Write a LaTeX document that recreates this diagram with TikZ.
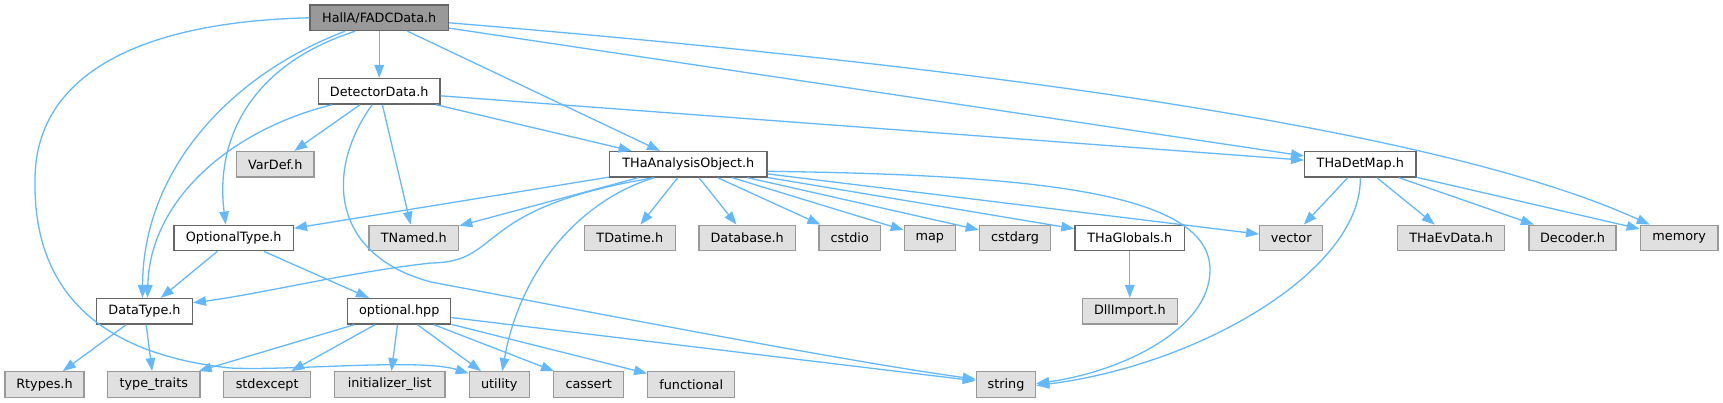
\documentclass[tikz,border=0pt]{standalone}
\usepackage{fontspec}
\setmainfont{DejaVu Sans}
\usetikzlibrary{arrows.meta}
\definecolor{povezava}{HTML}{63B8FF}
\definecolor{obroba}{HTML}{666666}
\definecolor{obrobasiva}{HTML}{999999}
\definecolor{polnilo}{HTML}{E0E0E0}
\tikzset{
	diagram/.style={x=1pt, y=-1pt, font=\fontsize{12.8}{15}\selectfont,
	                >={Triangle[length=13pt,width=9.5pt]}},
	datoteka/.style={draw=obroba, line width=1.3pt, fill=white, minimum height=25.5pt, inner sep=0pt},
	koren/.style={datoteka, fill=obrobasiva},
	sistemska/.style={datoteka, draw=obrobasiva, fill=polnilo},
	vkljuci/.style={->, draw=povezava, line width=1.3pt},
}

\begin{document}
\begin{tikzpicture}[diagram]
\useasboundingbox (0,0) rectangle (1723,403);

% ---------- datoteke ----------
\node[koren, minimum width=138.3pt] (fadc) at (379.2,17.8) {HallA/FADCData.h};

\node[datoteka, minimum width=121.7pt] (detdata) at (379.2,91.3) {DetectorData.h};

\node[sistemska, minimum width=77.7pt] (vardef) at (275.2,164.3) {VarDef.h};
\node[datoteka, minimum width=157.3pt] (anaobj) at (688.3,164.3) {THaAnalysisObject.h};
\node[datoteka, minimum width=111.3pt] (detmap) at (1360.3,164.3) {THaDetMap.h};

\node[datoteka, minimum width=119.3pt] (opttype) at (233.7,238) {OptionalType.h};
\node[sistemska, minimum width=89.7pt] (tnamed) at (413.8,238) {TNamed.h};
\node[sistemska, minimum width=91pt] (tdatime) at (629.8,238) {TDatime.h};
\node[sistemska, minimum width=96.3pt] (database) at (747.2,238) {Database.h};
\node[sistemska, minimum width=61.3pt] (cstdio) at (849.7,238) {cstdio};
\node[sistemska, minimum width=51pt] (hmap) at (929.8,238) {map};
\node[sistemska, minimum width=71.3pt] (cstdarg) at (1015,238) {cstdarg};
\node[datoteka, minimum width=109.7pt] (globals) at (1129.8,238) {THaGlobals.h};
\node[sistemska, minimum width=63pt] (vector) at (1291.2,238) {vector};
\node[sistemska, minimum width=107pt] (evdata) at (1451.2,238) {THaEvData.h};
\node[sistemska, minimum width=87pt] (decoder) at (1572.5,238) {Decoder.h};
\node[sistemska, minimum width=77.7pt] (memory) at (1679.2,238) {memory};

\node[datoteka, minimum width=95.7pt] (datatype) at (144.5,311.3) {DataType.h};
\node[datoteka, minimum width=103pt] (opthpp) at (399.2,311.3) {optional.hpp};
\node[sistemska, minimum width=95pt] (dllimport) at (1129.8,311.3) {DllImport.h};

\node[sistemska, minimum width=79pt] (rtypes) at (44.5,384.5) {Rtypes.h};
\node[sistemska, minimum width=92.3pt] (traits) at (153.8,384.5) {type\_traits};
\node[sistemska, minimum width=87pt] (stdexcept) at (267.2,384.5) {stdexcept};
\node[sistemska, minimum width=110.7pt] (initlist) at (389.7,384.5) {initializer\_list};
\node[sistemska, minimum width=60pt] (utility) at (499.3,384.5) {utility};
\node[sistemska, minimum width=70pt] (cassert) at (588.7,384.5) {cassert};
\node[sistemska, minimum width=87pt] (functional) at (691.2,384.5) {functional};
\node[sistemska, minimum width=59.3pt] (string) at (1006,384.5) {string};

% ---------- vkljucitve ----------
\draw[vkljuci] (fadc) -- (detdata);
\draw[vkljuci] (fadc) -- (anaobj);
\draw[vkljuci] (fadc) -- (detmap);
\draw[vkljuci] ([yshift=-5pt]fadc.east) .. controls (900,60) and (1420,120) .. ([xshift=10pt]memory.north west);
\draw[vkljuci] ([xshift=-34pt]fadc.south) .. controls (230,75) and (143,170) .. ([xshift=-2pt]datatype.north);
\draw[vkljuci] ([xshift=-24pt]fadc.south) .. controls (250,65) and (215,140) .. ([xshift=-8pt]opttype.north);
\draw[vkljuci] (fadc.west) .. controls (130,22) and (35,80) .. (35,180)
    .. controls (33,300) and (110,355) .. (230,368)
    .. controls (290,371) and (420,358) .. (utility.160);

\draw[vkljuci] (detdata) -- (vardef);
\draw[vkljuci] (detdata) -- (tnamed);
\draw[vkljuci] (detdata) -- (anaobj);
\draw[vkljuci] (detdata) -- (detmap);
\draw[vkljuci] ([xshift=-47pt]detdata.south) .. controls (230,130) and (150,200) .. ([xshift=3pt]datatype.north);
\draw[vkljuci] ([xshift=-7pt]detdata.south) .. controls (325,170) and (330,255) .. (431,282)
    .. controls (600,314) and (850,362) .. (string.170);

\draw[vkljuci] (anaobj) -- (opttype);
\draw[vkljuci] (anaobj) -- (tnamed);
\draw[vkljuci] (anaobj) -- (tdatime);
\draw[vkljuci] (anaobj) -- (database);
\draw[vkljuci] (anaobj) -- (cstdio);
\draw[vkljuci] (anaobj) -- (hmap);
\draw[vkljuci] (anaobj) -- (cstdarg);
\draw[vkljuci] (anaobj) -- (globals);
\draw[vkljuci] (anaobj) -- (vector);
\draw[vkljuci] ([xshift=-34pt]anaobj.south) .. controls (470,208) and (505,262) .. (431,263)
    .. controls (350,272) and (260,294) .. (datatype.10);
\draw[vkljuci] ([xshift=-34pt]anaobj.south) .. controls (580,200) and (520,270) .. ([xshift=3pt]utility.north);
\draw[vkljuci] ([yshift=-7pt]anaobj.east) .. controls (1050,175) and (1210,195) .. (1210,270)
    .. controls (1210,330) and (1120,372) .. ([yshift=1pt]string.east);

\draw[vkljuci] (globals) -- (dllimport);

\draw[vkljuci] (detmap) -- (vector);
\draw[vkljuci] (detmap) -- (evdata);
\draw[vkljuci] (detmap) -- (decoder);
\draw[vkljuci] (detmap) -- (memory);
\draw[vkljuci] (detmap.south) .. controls (1362,270) and (1200,365) .. ([yshift=-1pt]string.east);

\draw[vkljuci] (opttype) -- (datatype);
\draw[vkljuci] (opttype) -- (opthpp);

\draw[vkljuci] (datatype) -- (rtypes);
\draw[vkljuci] (datatype) -- (traits);

\draw[vkljuci] (opthpp) -- (traits);
\draw[vkljuci] (opthpp) -- (stdexcept);
\draw[vkljuci] (opthpp) -- (initlist);
\draw[vkljuci] (opthpp) -- (utility);
\draw[vkljuci] (opthpp) -- (cassert);
\draw[vkljuci] (opthpp) -- (functional);
\draw[vkljuci] (opthpp) -- (string);

\end{tikzpicture}
\end{document}
